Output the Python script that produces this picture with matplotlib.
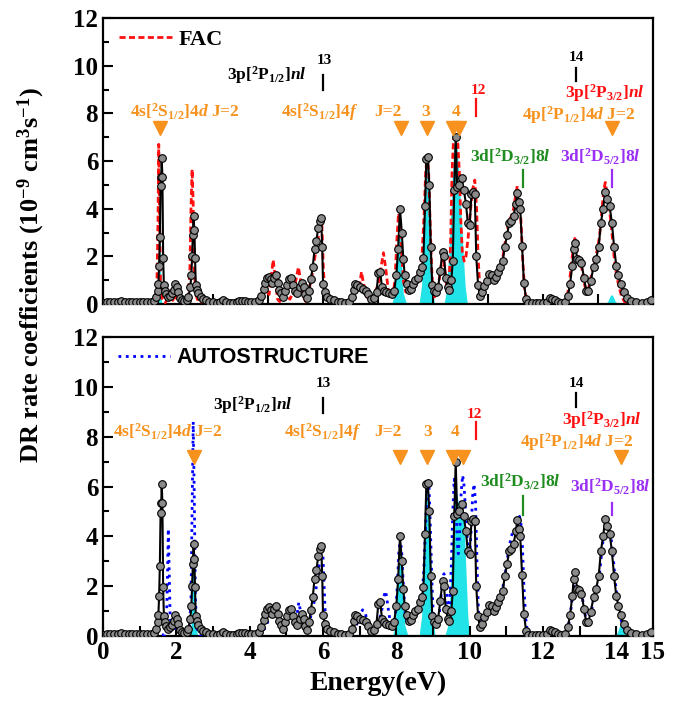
import numpy as np
import matplotlib
matplotlib.use("Agg")
from matplotlib import pyplot as plt
from matplotlib.ticker import MultipleLocator

# experimental DR rate coefficients (1e-9 cm^3 s^-1) vs energy (eV)
exp_e = [0.00, 0.10, 0.20, 0.30, 0.40, 0.50, 0.60, 0.70, 0.80, 0.90, 1.00, 1.10, 1.20, 1.30,
         1.40, 1.45, 1.49, 1.51, 1.53, 1.55, 1.57, 1.59, 1.60, 1.62, 1.64, 1.66, 1.69, 1.73,
         1.78, 1.83, 1.88, 1.93, 1.97, 2.01, 2.05, 2.10, 2.16, 2.22, 2.28, 2.33, 2.38, 2.41,
         2.43, 2.45, 2.47, 2.49, 2.51, 2.53, 2.56, 2.60, 2.66, 2.72, 2.80, 2.90, 3.00, 3.10,
         3.20, 3.28, 3.35, 3.45, 3.55, 3.65, 3.72, 3.80, 3.88, 3.96, 4.05, 4.15, 4.25, 4.32,
         4.38, 4.42, 4.47, 4.52, 4.57, 4.62, 4.67, 4.72, 4.76, 4.80, 4.85, 4.92, 4.97, 5.01,
         5.08, 5.12, 5.18, 5.24, 5.30, 5.36, 5.42, 5.47, 5.52, 5.57, 5.62, 5.67, 5.72, 5.77,
         5.82, 5.87, 5.92, 5.95, 5.98, 6.00, 6.05, 6.12, 6.20, 6.30, 6.40, 6.50, 6.60, 6.70,
         6.78, 6.84, 6.88, 6.93, 7.00, 7.08, 7.16, 7.24, 7.32, 7.40, 7.46, 7.51, 7.56, 7.61,
         7.66, 7.73, 7.80, 7.87, 7.94, 8.00, 8.05, 8.10, 8.15, 8.19, 8.23, 8.28, 8.34, 8.40,
         8.46, 8.52, 8.58, 8.64, 8.70, 8.74, 8.78, 8.82, 8.86, 8.90, 8.94, 8.98, 9.03, 9.08,
         9.14, 9.20, 9.26, 9.30, 9.35, 9.40, 9.45, 9.50, 9.54, 9.58, 9.62, 9.66, 9.72, 9.78,
         9.84, 9.90, 9.95, 10.00, 10.05, 10.10, 10.14, 10.18, 10.23, 10.28, 10.33, 10.40,
         10.47, 10.54, 10.60, 10.66, 10.72, 10.78, 10.84, 10.90, 10.96, 11.02, 11.08, 11.14,
         11.20, 11.26, 11.30, 11.34, 11.38, 11.43, 11.48, 11.54, 11.60, 11.70, 11.80, 11.90,
         12.00, 12.10, 12.18, 12.25, 12.32, 12.40, 12.50, 12.60, 12.68, 12.74, 12.80, 12.84,
         12.88, 12.93, 12.98, 13.05, 13.12, 13.18, 13.24, 13.30, 13.38, 13.45, 13.52, 13.58,
         13.64, 13.70, 13.76, 13.82, 13.88, 13.94, 14.00, 14.06, 14.12, 14.20, 14.30, 14.40,
         14.55, 14.70, 14.85, 14.95]
exp_v = [0.05, 0.08, 0.10, 0.09, 0.10, 0.11, 0.09, 0.10, 0.08, 0.09, 0.08, 0.10, 0.09, 0.10,
         0.12, 0.30, 0.55, 0.85, 1.60, 2.80, 4.95, 5.35, 6.12, 5.35, 1.95, 0.80, 0.55, 0.40,
         0.30, 0.35, 0.45, 0.60, 0.85, 0.70, 0.50, 0.25, 0.15, 0.12, 0.15, 0.30, 0.70, 1.20,
         2.00, 2.90, 3.70, 3.10, 1.95, 0.80, 0.60, 0.45, 0.30, 0.20, 0.15, 0.10, 0.08, 0.06,
         0.08, 0.15, 0.10, 0.06, 0.05, 0.08, 0.12, 0.14, 0.12, 0.10, 0.08, 0.10, 0.15, 0.35,
         0.65, 0.90, 1.10, 1.15, 1.05, 0.90, 1.10, 1.20, 0.90, 0.60, 0.45, 0.30, 0.55, 0.80,
         1.05, 1.08, 0.80, 0.55, 0.45, 0.70, 0.87, 0.70, 0.40, 0.25, 0.55, 1.05, 1.55, 2.30,
         2.65, 3.20, 3.50, 3.60, 2.40, 0.85, 0.50, 0.30, 0.20, 0.15, 0.10, 0.08, 0.06, 0.10,
         0.30, 0.60, 0.85, 0.80, 0.70, 0.65, 0.55, 0.40, 0.20, 0.25, 0.50, 1.30, 1.35, 0.70,
         0.55, 0.50, 0.45, 0.40, 0.55, 1.20, 2.30, 4.00, 3.00, 1.90, 1.20, 0.85, 0.60, 0.65,
         0.85, 1.00, 1.10, 1.35, 1.55, 1.95, 4.10, 6.10, 6.15, 5.00, 2.40, 0.80, 0.55, 0.50,
         0.70, 1.40, 2.20, 2.00, 1.10, 0.70, 0.60, 1.00, 1.80, 4.80, 7.00, 4.90, 5.00, 5.30,
         4.80, 4.20, 3.40, 3.30, 4.60, 4.70, 4.60, 2.00, 0.80, 0.35, 0.50, 0.75,
         0.95, 1.25, 1.20, 1.00, 1.15, 1.35, 1.55, 1.80, 2.40, 2.90, 3.40, 3.50,
         3.70, 4.20, 4.65, 4.30, 4.00, 2.45, 0.90, 0.20, 0.05, 0.04, 0.05, 0.06,
         0.05, 0.08, 0.25, 0.20, 0.15, 0.08, 0.06, 0.10, 0.35, 0.85, 1.60, 2.30,
         2.55, 1.90, 1.85, 1.70, 1.10, 0.55, 0.55, 0.95, 1.55, 1.90, 2.40, 3.40,
         4.00, 4.70, 4.40, 4.10, 3.40, 2.40, 1.60, 1.20, 0.85, 0.50, 0.25, 0.12,
         0.08, 0.05, 0.10, 0.15]

# FAC theory
fac_e = [0.0, 0.5, 1.0, 1.3, 1.42, 1.47, 1.50, 1.52, 1.54, 1.57, 1.62, 1.70, 1.78, 1.83, 1.88,
         1.95, 2.02, 2.06, 2.12, 2.25, 2.33, 2.37, 2.40, 2.43, 2.46, 2.49, 2.53, 2.6, 2.8, 3.2,
         3.6, 3.9, 4.2, 4.35, 4.42, 4.48, 4.53, 4.58, 4.64, 4.70, 4.76, 4.82, 4.90, 4.97, 5.03,
         5.10, 5.18, 5.26, 5.33, 5.40, 5.47, 5.53, 5.60, 5.67, 5.73, 5.80, 5.87, 5.93, 5.97,
         6.01, 6.05, 6.12, 6.3, 6.6, 6.75, 6.82, 6.88, 6.94, 7.00, 7.05, 7.10, 7.17, 7.24, 7.30,
         7.36, 7.45, 7.52, 7.59, 7.65, 7.71, 7.78, 7.85, 7.92, 7.97, 8.02, 8.06, 8.10, 8.15,
         8.20, 8.26, 8.32, 8.40, 8.48, 8.56, 8.64, 8.70, 8.76, 8.80, 8.84, 8.88, 8.92, 8.96,
         9.00, 9.05, 9.10, 9.16, 9.22, 9.27, 9.31, 9.36, 9.40, 9.44, 9.48, 9.52, 9.56, 9.62,
         9.68, 9.72, 9.76, 9.80, 9.85, 9.90, 9.96, 10.02, 10.08, 10.14, 10.19, 10.23, 10.28,
         10.33, 10.40, 10.47, 10.54, 10.60, 10.66, 10.72, 10.78, 10.84, 10.90, 10.96, 11.02,
         11.08, 11.14, 11.20, 11.26, 11.30, 11.35, 11.40, 11.45, 11.50, 11.56, 11.65, 12.0,
         12.1, 12.18, 12.26, 12.35, 12.55, 12.65, 12.72, 12.80, 12.87, 12.93, 12.99, 13.05,
         13.12, 13.18, 13.25, 13.32, 13.40, 13.47, 13.54, 13.60, 13.66, 13.70, 13.75, 13.82,
         13.88, 13.94, 14.00, 14.06, 14.14, 14.22, 14.4, 15.0]
fac_v = [0.02, 0.04, 0.05, 0.05, 0.1, 0.8, 3.5, 6.7, 4.0, 0.8, 0.2, 0.05, 0.3, 0.55, 0.2,
         0.1, 0.5, 0.3, 0.05, 0.05, 0.3, 1.5, 4.0, 5.65, 4.2, 1.5, 0.4, 0.1, 0.05, 0.03,
         0.05, 0.08, 0.05, 0.3, 0.8, 0.5, 0.4, 1.0, 1.85, 1.1, 0.2, 0.1, 0.4, 0.65, 0.3,
         0.2, 0.5, 1.0, 1.55, 0.9, 0.3, 0.1, 0.4, 1.0, 1.4, 2.2, 2.8, 3.55, 3.3,
         1.5, 0.5, 0.15, 0.05, 0.03, 0.1, 0.4, 0.7, 0.55, 0.8, 1.35, 0.9, 0.4, 0.2, 0.15,
         0.3, 0.6, 0.9, 1.6, 2.15, 1.5, 0.6, 0.3, 0.4, 1.2, 2.8, 3.8, 3.5, 2.0,
         0.9, 0.5, 0.6, 0.8, 0.9, 1.1, 1.4, 2.0, 3.8, 5.5, 6.2, 5.6, 3.5, 1.6,
         0.6, 0.3, 0.5, 0.9, 1.6, 2.0, 1.6, 0.9, 0.6, 0.9, 2.5, 5.5, 6.9, 7.0,
         6.7, 5.5, 3.5, 2.2, 1.8, 2.0, 2.8, 3.9, 4.8, 5.2, 4.0, 2.0, 0.6,
         0.4, 0.6, 0.95, 1.2, 1.15, 1.0, 1.1, 1.3, 1.6, 1.9, 2.5, 3.1,
         3.5, 3.7, 4.0, 4.6, 4.95, 4.5, 3.5, 1.8, 0.6, 0.1, 0.02, 0.03,
         0.1, 0.2, 0.12, 0.05, 0.03, 0.2, 0.9, 2.0, 2.75, 2.2, 1.9, 1.6,
         0.9, 0.55, 0.7, 1.2, 1.8, 2.2, 2.8, 3.8, 4.8, 5.1, 4.6, 3.9,
         3.0, 2.0, 1.3, 0.8, 0.35, 0.1, 0.02, 0.02]

# AUTOSTRUCTURE theory
as_e = [0.0, 1.0, 1.5, 1.68, 1.73, 1.76, 1.78, 1.80, 1.83, 1.87, 1.92, 2.00, 2.05, 2.10, 2.2,
        2.35, 2.40, 2.43, 2.46, 2.49, 2.52, 2.56, 2.65, 3.0, 4.0, 4.3, 4.45, 4.55, 4.62, 4.70,
        4.75, 4.82, 4.90, 4.98, 5.06, 5.13, 5.20, 5.27, 5.34, 5.40, 5.46, 5.52, 5.60, 5.68,
        5.75, 5.82, 5.88, 5.94, 5.99, 6.03, 6.07, 6.13, 6.3, 6.7, 6.85, 6.93, 7.00, 7.08,
        7.15, 7.22, 7.30, 7.38, 7.46, 7.53, 7.60, 7.66, 7.71, 7.77, 7.84, 7.90, 7.96, 8.02,
        8.07, 8.11, 8.15, 8.20, 8.25, 8.31, 8.38, 8.46, 8.54, 8.62, 8.70, 8.75, 8.80, 8.85,
        8.89, 8.93, 8.97, 9.01, 9.06, 9.12, 9.18, 9.24, 9.30, 9.35, 9.40, 9.45, 9.50, 9.54,
        9.58, 9.62, 9.66, 9.69, 9.73, 9.77, 9.81, 9.85, 9.90, 9.95, 10.00, 10.04, 10.08,
        10.12, 10.16, 10.20, 10.24, 10.28, 10.34, 10.42, 10.50, 10.58, 10.66, 10.74, 10.82,
        10.90, 10.98, 11.05, 11.12, 11.18, 11.24, 11.30, 11.36, 11.40, 11.44, 11.48, 11.53,
        11.58, 11.65, 12.0, 12.15, 12.22, 12.30, 12.40, 12.6, 12.68, 12.75, 12.82, 12.88,
        12.94, 13.00, 13.06, 13.12, 13.18, 13.25, 13.32, 13.40, 13.48, 13.55, 13.62, 13.68,
        13.74, 13.80, 13.86, 13.92, 13.98, 14.04, 14.10, 14.18, 14.26, 14.4, 15.0]
as_v = [0.02, 0.03, 0.03, 0.05, 0.6, 2.5, 4.3, 3.0, 0.8, 0.3, 0.2, 0.4, 0.45, 0.2, 0.05,
        0.1, 1.5, 5.0, 8.6, 5.5, 1.5, 0.3, 0.05, 0.02, 0.03, 0.05, 0.4, 0.8, 1.0, 1.1,
        1.0, 0.5, 0.15, 0.25, 0.6, 0.8, 0.5, 0.6, 1.35, 0.9, 0.4, 0.1, 0.3, 0.9,
        1.3, 2.0, 2.6, 3.4, 3.55, 2.0, 0.6, 0.15, 0.05, 0.03, 0.2, 0.5, 0.8, 1.05,
        0.95, 0.5, 0.2, 0.15, 0.3, 0.6, 1.0, 1.6, 1.8, 1.2, 0.5, 0.3, 0.6, 1.8,
        3.4, 3.9, 3.3, 1.8, 0.8, 0.5, 0.6, 0.8, 1.0, 1.2, 1.6, 2.6, 4.5, 6.3,
        6.1, 4.3, 2.2, 0.8, 0.4, 0.5, 1.0, 1.9, 2.5, 2.1, 1.3, 1.2, 2.8, 5.0,
        6.3, 5.6, 3.8, 3.3, 4.2, 5.8, 6.45, 6.0, 4.7, 3.6, 3.2, 4.2, 5.6,
        6.1, 5.4, 3.0, 1.0, 0.4, 0.5, 0.8, 1.1, 1.2, 1.1, 1.25, 1.5,
        1.9, 2.6, 3.3, 3.9, 4.2, 4.2, 4.5, 4.8, 4.5, 3.6, 2.0, 0.7,
        0.1, 0.02, 0.03, 0.15, 0.2, 0.12, 0.05, 0.05, 0.3, 0.9, 1.8, 2.4,
        1.9, 1.85, 1.7, 1.1, 0.6, 0.6, 1.0, 1.6, 2.0, 2.6, 3.6, 4.3,
        4.8, 4.4, 3.9, 3.1, 2.1, 1.3, 0.8, 0.4, 0.15, 0.03, 0.02]

# resonance profiles (cyan)
top_peaks = [
    ([1.49, 1.51, 1.525, 1.535, 1.545, 1.555, 1.565, 1.58, 1.60],
     [0.0, 0.5, 2.6, 5.0, 6.6, 5.0, 2.6, 0.5, 0.0]),
    ([7.88, 7.95, 8.01, 8.04, 8.07, 8.10, 8.13, 8.19, 8.28],
     [0.0, 0.45, 2.1, 3.1, 3.6, 3.1, 2.1, 0.45, 0.0]),
    ([8.62, 8.69, 8.75, 8.79, 8.83, 8.87, 8.91, 8.97, 9.04],
     [0.0, 0.8, 3.6, 5.3, 6.1, 5.3, 3.6, 0.8, 0.0]),
    ([9.30, 9.36, 9.42, 9.48, 9.53, 9.57, 9.61, 9.65, 9.70, 9.76, 9.82, 9.88, 9.94],
     [0.0, 0.5, 1.8, 3.6, 5.4, 6.6, 7.0, 6.7, 5.6, 4.0, 2.2, 0.7, 0.0]),
    ([13.70, 13.77, 13.83, 13.87, 13.91, 13.97, 14.04],
     [0.0, 0.12, 0.33, 0.40, 0.33, 0.12, 0.0]),
]
bot_peaks = [
    ([2.36, 2.40, 2.43, 2.45, 2.47, 2.49, 2.51, 2.54, 2.58],
     [0.0, 0.4, 1.7, 3.0, 3.75, 3.0, 1.7, 0.4, 0.0]),
    ([7.90, 7.97, 8.03, 8.06, 8.10, 8.14, 8.17, 8.23, 8.32],
     [0.0, 0.45, 2.2, 3.2, 3.7, 3.2, 2.2, 0.45, 0.0]),
    ([8.62, 8.69, 8.75, 8.79, 8.84, 8.89, 8.93, 8.99, 9.06],
     [0.0, 0.8, 3.5, 5.2, 6.0, 5.2, 3.5, 0.8, 0.0]),
    ([9.32, 9.40, 9.46, 9.51, 9.55, 9.59, 9.63, 9.67, 9.72, 9.77, 9.82, 9.86, 9.90, 9.95, 10.00],
     [0.0, 0.4, 1.5, 3.4, 5.0, 5.8, 5.9, 5.5, 5.2, 5.2, 5.0, 4.2, 2.6, 0.8, 0.0]),
    ([13.97, 14.03, 14.09, 14.13, 14.17, 14.23, 14.30],
     [0.0, 0.15, 0.40, 0.50, 0.40, 0.15, 0.0]),
]

ORANGE = '#F7921E'
GREEN = '#1E8C1E'
PURPLE = '#9A2EF5'
RED = '#FF1010'
CYAN = '#22E3E8'

plt.rcParams['font.family'] = 'Liberation Serif'
plt.rcParams['font.weight'] = 'bold'
plt.rcParams['axes.labelweight'] = 'bold'
plt.rcParams['mathtext.fontset'] = 'custom'
plt.rcParams['mathtext.rm'] = 'Liberation Serif:bold'
plt.rcParams['mathtext.it'] = 'Liberation Serif:italic:bold'
plt.rcParams['mathtext.bf'] = 'Liberation Serif:bold'
plt.rcParams['mathtext.default'] = 'rm'

fig = plt.figure(figsize=(6.9, 7.18), dpi=100)
ax1 = fig.add_axes([0.1493, 0.5766, 0.797, 0.3983])
ax2 = fig.add_axes([0.1493, 0.1142, 0.797, 0.4164])


def style(ax, xt):
    ax.set_xlim(0, 15)
    ax.set_ylim(0, 12)
    ax.set_xticks(xt)
    ax.yaxis.set_major_locator(MultipleLocator(2))
    ax.yaxis.set_minor_locator(MultipleLocator(1))
    ax.tick_params(which='both', direction='in', width=1.5, labelsize=18,
                   top=False, right=False)
    ax.tick_params(which='major', length=7)
    ax.tick_params(which='minor', length=4)
    for s in ax.spines.values():
        s.set_linewidth(1.6)


def draw_exp(ax):
    ax.plot(exp_e, exp_v, '-', color='black', lw=1.5, marker='o', ms=5.5,
            mfc='#8a8a8a', mec='black', mew=0.8, zorder=4)


for ax, peaks in ((ax1, top_peaks), (ax2, bot_peaks)):
    for pe, pv in peaks:
        ax.fill_between(pe, pv, 0, color=CYAN, lw=0, zorder=1)

ax1.plot(fac_e, fac_v, color=RED, lw=2, dashes=(2.2, 1.2), zorder=3, label='FAC')
ax2.plot(as_e, as_v, color='blue', lw=2, ls=':', zorder=3, label='AUTOSTRUCTURE')
draw_exp(ax1)
draw_exp(ax2)

style(ax1, np.arange(0, 15.01, 1.5))
ax1.set_xticklabels([])
style(ax2, np.arange(0, 16, 1))
ax2.set_xticklabels([str(i) if (i % 2 == 0 or i == 15) else '' for i in range(16)])

ax1.legend(loc='center left', bbox_to_anchor=(0.012, 0.925), borderaxespad=0, frameon=False,
           handlelength=2.4, handletextpad=0.3, prop={'size': 16, 'weight': 'bold'})
ax2.legend(loc='center left', bbox_to_anchor=(0.012, 0.93), borderaxespad=0, frameon=False,
           handlelength=2.4, handletextpad=0.3,
           prop={'family': 'Liberation Sans', 'size': 15.5, 'weight': 'bold'})

fs = 12.5
tri = dict(marker='v', ms=10.5, color=ORANGE, ls='none', zorder=5)


def label(ax, x, y, s, c, size=fs):
    ax.text(x, y, s, color=c, fontsize=size, ha='center', va='center', zorder=6)


def tick(ax, x, y0, y1, c):
    ax.plot([x, x], [y0, y1], color=c, lw=1.6, zorder=6)


# top panel labels
label(ax1, 2.24, 8.05, r'4s[$^2$S$_{1/2}$]$\mathit{4d}$ J=2', ORANGE)
ax1.plot([1.55], [7.4], **tri)
label(ax1, 5.92, 8.05, r'4s[$^2$S$_{1/2}$]$\mathit{4f}$', ORANGE)
label(ax1, 7.77, 8.05, 'J=2', ORANGE)
label(ax1, 8.80, 8.05, '3', ORANGE)
label(ax1, 9.63, 8.05, '4', ORANGE)
ax1.plot([8.12, 8.85, 9.54, 9.72], [7.4] * 4, **tri)
label(ax1, 12.98, 7.92, r'4p[$^2$P$_{1/2}$]$\mathit{4d}$ J=2', ORANGE)
ax1.plot([13.87], [7.4], **tri)
label(ax1, 10.24, 8.95, '12', RED, 11)
tick(ax1, 10.17, 7.9, 8.6, RED)
label(ax1, 6.05, 10.2, '13', 'black', 11)
tick(ax1, 6.0, 9.0, 9.6, 'black')
label(ax1, 4.47, 9.62, r'3p[$^2$P$_{1/2}$]$\mathit{nl}$', 'black')
label(ax1, 12.92, 10.35, '14', 'black', 11)
tick(ax1, 12.9, 9.35, 9.9, 'black')
label(ax1, 13.69, 8.85, r'3p[$^2$P$_{3/2}$]$\mathit{nl}$', RED)
label(ax1, 11.12, 6.19, r'3d[$^2$D$_{3/2}$]$\mathit{8l}$', GREEN)
tick(ax1, 11.45, 4.93, 5.63, GREEN)
label(ax1, 13.57, 6.19, r'3d[$^2$D$_{5/2}$]$\mathit{8l}$', PURPLE)
tick(ax1, 13.87, 4.93, 5.63, PURPLE)

# bottom panel labels
label(ax2, 1.78, 8.2, r'4s[$^2$S$_{1/2}$]$\mathit{4d}$ J=2', ORANGE)
ax2.plot([2.48], [7.2], **tri)
label(ax2, 5.98, 8.2, r'4s[$^2$S$_{1/2}$]$\mathit{4f}$', ORANGE)
label(ax2, 7.77, 8.2, 'J=2', ORANGE)
label(ax2, 8.85, 8.2, '3', ORANGE)
label(ax2, 9.6, 8.2, '4', ORANGE)
ax2.plot([8.1, 8.83, 9.55, 9.83], [7.2] * 4, **tri)
label(ax2, 12.92, 7.8, r'4p[$^2$P$_{1/2}$]$\mathit{4d}$ J=2', ORANGE)
ax2.plot([14.12], [7.2], **tri)
label(ax2, 10.13, 8.9, '12', RED, 11)
tick(ax2, 10.17, 7.9, 8.6, RED)
label(ax2, 6.0, 10.15, '13', 'black', 11)
tick(ax2, 6.0, 8.95, 9.55, 'black')
label(ax2, 4.09, 9.28, r'3p[$^2$P$_{1/2}$]$\mathit{nl}$', 'black')
label(ax2, 12.9, 10.15, '14', 'black', 11)
tick(ax2, 12.9, 9.2, 9.75, 'black')
label(ax2, 13.6, 8.68, r'3p[$^2$P$_{3/2}$]$\mathit{nl}$', RED)
label(ax2, 11.37, 6.2, r'3d[$^2$D$_{3/2}$]$\mathit{8l}$', GREEN)
tick(ax2, 11.45, 4.86, 5.6, GREEN)
label(ax2, 13.83, 6.0, r'3d[$^2$D$_{5/2}$]$\mathit{8l}$', PURPLE)
tick(ax2, 13.87, 4.86, 5.34, PURPLE)

ax2.set_xlabel('Energy(eV)', fontsize=20, fontweight='bold', labelpad=5)
fig.text(0.045, 0.617, r'DR rate coefficients (10$^{-9}$ cm$^3$s$^{-1}$)',
         rotation=90, ha='center', va='center', fontsize=19, fontweight='bold')

plt.savefig('out.png', dpi=100)
